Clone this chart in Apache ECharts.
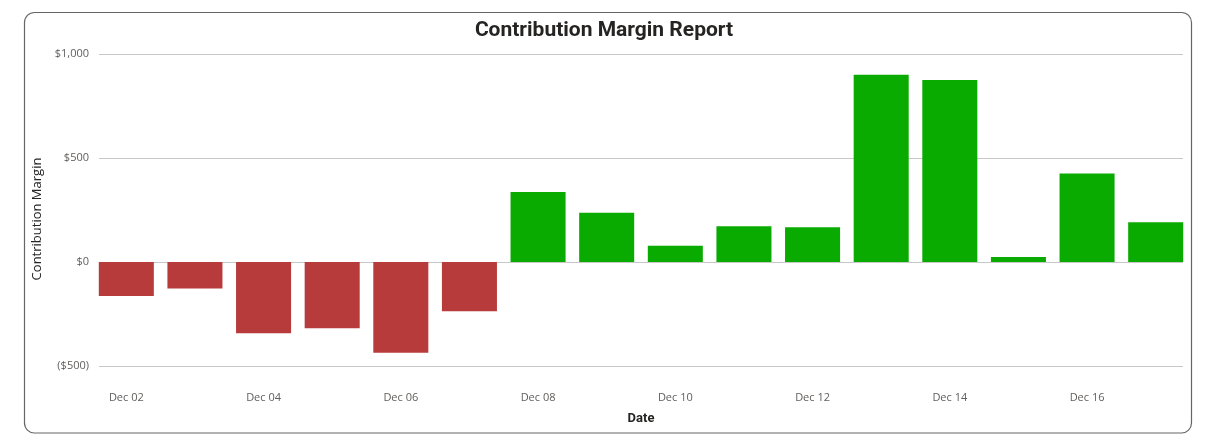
<!DOCTYPE html>
<html>
<head>
<meta charset="utf-8">
<script src="https://cdn.jsdelivr.net/npm/echarts@6/dist/echarts.min.js"></script>
<style>
html,body{margin:0;padding:0;background:#fff;}
#chart{width:1208px;height:444px;}
</style>
</head>
<body>
<div id="chart"></div>
<script>
const categories = ["Dec 02","Dec 03","Dec 04","Dec 05","Dec 06","Dec 07","Dec 08","Dec 09","Dec 10","Dec 11","Dec 12","Dec 13","Dec 14","Dec 15","Dec 16","Dec 17"];
const margins = [-163,-128,-343,-319,-436,-237,337,237,78,172,167,900,875,24,425,191];
const yTicks = [-500, 0, 500, 1000];

const chart = echarts.init(document.getElementById('chart'), null, {renderer:'canvas'});
function fmt(v){
  const a = Math.abs(v).toLocaleString('en-US');
  return v < 0 ? '($' + a + ')' : '$' + a;
}
const yMin = yTicks[0], yMax = yTicks[yTicks.length-1];
chart.setOption({
  animation:false,
  graphic:[{
    type:'rect',
    shape:{x:24.5, y:12.5, width:1167, height:420.5, r:10},
    style:{fill:'none', stroke:'#666', lineWidth:1.2},
    silent:true
  }],
  title:{
    text:'Contribution Margin Report',
    left:'center', top:15,
    textStyle:{fontFamily:'Roboto', fontWeight:'bold', fontSize:21, color:'#252423'}
  },
  grid:[
    {left:99, right:25, top:54, bottom:78},
    {left:92, right:18, top:54, bottom:78}
  ],
  xAxis:[
    {type:'category', gridIndex:0, data:categories, show:false},
    {
      type:'category', gridIndex:1,
      data:categories,
      axisLine:{show:false},
      axisTick:{show:false},
      axisLabel:{interval:1, color:'#605e5c', fontFamily:'Open Sans', fontSize:11, margin:26},
      name:'Date', nameLocation:'middle', nameGap:46,
      nameTextStyle:{fontFamily:'Roboto', fontWeight:'bold', fontSize:13, color:'#252423'}
    }
  ],
  yAxis:[
    {
      type:'value', gridIndex:0,
      min:yMin, max:yMax, interval:500,
      axisLine:{show:false},
      axisTick:{show:false},
      splitLine:{lineStyle:{color:'#c8c8c8', width:1}},
      axisLabel:{formatter:fmt, color:'#605e5c', fontFamily:'Open Sans', fontSize:11, margin:10},
      name:'Contribution Margin', nameLocation:'middle', nameGap:50,
      nameTextStyle:{fontFamily:'Open Sans', fontSize:13, color:'#252423', padding:[0,18,0,0]}
    },
    {
      type:'value', gridIndex:1,
      min:yMin, max:yMax, interval:500,
      show:false, splitLine:{show:false}
    }
  ],
  series:[{
    type:'bar',
    xAxisIndex:1, yAxisIndex:1,
    data:margins,
    barCategoryGap:'19.8%',
    itemStyle:{color:function(p){return p.value < 0 ? '#b83b3b' : '#0aab00';}}
  }]
});
</script>
</body>
</html>
